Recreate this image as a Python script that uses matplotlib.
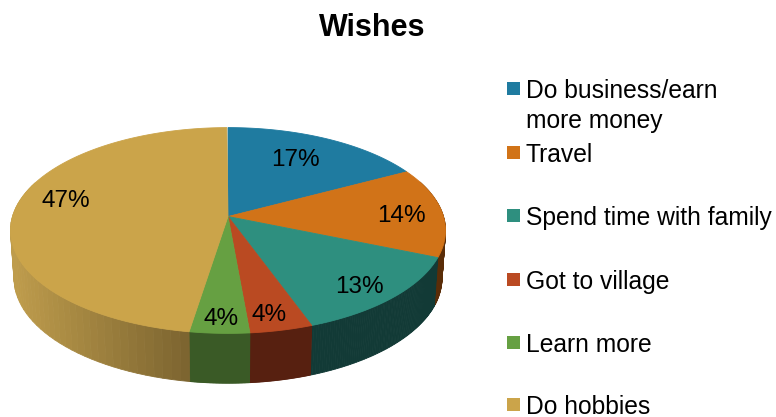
import numpy as np
import matplotlib
matplotlib.use('Agg')
import matplotlib.pyplot as plt
from matplotlib.patches import Rectangle

plt.rcParams['font.family'] = ['Liberation Sans', 'DejaVu Sans']

labels = ['Do business/earn\nmore money', 'Travel', 'Spend time with family',
          'Got to village', 'Learn more', 'Do hobbies']
values = [17.2, 14.1, 13.2, 4.1, 3.9, 47.4]
top_colors = ['#1F7BA0', '#D17318', '#2E8F7F', '#BA4A22', '#66A042', '#CBA44A']
side_colors = ['#124A60', '#5A2D08', '#123A36', '#572010', '#3A5A26', '#BE9C4C']
side_dark = ['#124A60', '#5A2D08', '#123A36', '#572010', '#3A5A26', '#7D6530']

# where things sit on the canvas, in pixels
label_xy = [(295, 160), (401, 216), (359, 287), (269, 315), (221, 319), (66, 201)]
legend_y = [88.5, 152.5, 215.5, 279.5, 342.5, 404.5]

CX, CY = 228, 216.5
K = 0.136


def project(theta, a, b, cy):
    # circle seen in perspective, theta is clockwise from 12 o'clock
    u, v = np.sin(theta), np.cos(theta)
    d = 1 + K * v
    return CX + a * u / d, cy - b * v / d


fig = plt.figure(figsize=(7.76, 4.17), dpi=100)
ax = fig.add_axes([0, 0, 1, 1])
ax.set_xlim(0, 776)
ax.set_ylim(417, 0)
ax.axis('off')

edges = np.radians(np.concatenate([[0], np.cumsum(values)]) * 3.6)

# side wall first, the top face covers the far half of it
for i in range(len(values)):
    thetas = np.linspace(edges[i], edges[i + 1], 80)
    c1 = np.array(matplotlib.colors.to_rgb(side_colors[i]))
    c2 = np.array(matplotlib.colors.to_rgb(side_dark[i]))
    for t0, t1 in zip(thetas[:-1], thetas[1:]):
        if np.cos(t0) > 0.35 and np.cos(t1) > 0.35:
            continue
        x0, y0 = project(t0, 215.5, 101, CY)
        x1, y1 = project(t1, 215.5, 101, CY)
        x2, y2 = project(t1, 212, 103, CY + 47.5)
        x3, y3 = project(t0, 212, 103, CY + 47.5)
        f = min(max((x0 - 15) / 175, 0), 1)
        col = c1 + (c2 - c1) * f if i == 5 else c1
        ax.fill([x0, x1, x2, x3], [y0, y1, y2, y3], color=col, lw=0.6, zorder=2)

# top face
for i in range(len(values)):
    thetas = np.linspace(edges[i], edges[i + 1], 120)
    xs, ys = project(thetas, 215.5, 101, CY)
    ax.fill(np.r_[CX, xs], np.r_[CY, ys], color=top_colors[i], lw=0.6, zorder=3)

for v, (x, y) in zip(values, label_xy):
    ax.text(x, y, '%.0f%%' % round(v), ha='center', va='center', fontsize=17.5,
            color='black', zorder=4)

# legend
for lab, col, y in zip(labels, top_colors, legend_y):
    ax.add_patch(Rectangle((507, y - 6.5), 13, 13, color=col, lw=0))
    ax.text(526, y - 10, lab, ha='left', va='top', fontsize=17.7, color='black',
            linespacing=1.32)

ax.text(372, 28, 'Wishes', ha='center', va='center', fontsize=22, fontweight='bold',
        color='black')

fig.savefig('out.png', dpi=100)
